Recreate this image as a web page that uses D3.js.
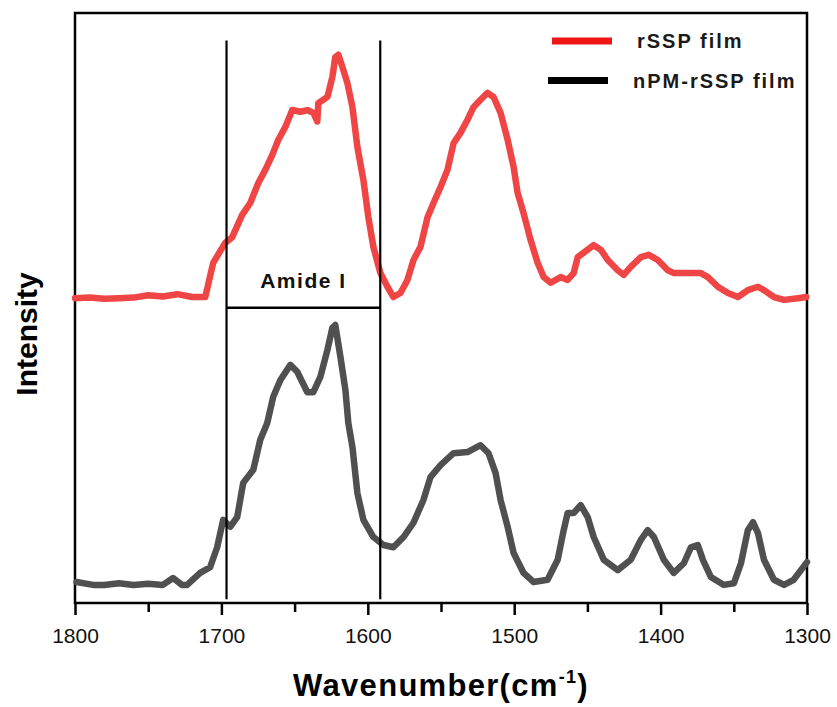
<!DOCTYPE html>
<html>
<head>
<meta charset="utf-8">
<script src="https://cdn.jsdelivr.net/npm/d3@7"></script>
<style>
  body { margin: 0; background: #fff; }
  svg { display: block; }
  text { font-family: "Liberation Sans", Arial, Helvetica, sans-serif; }
</style>
</head>
<body>
<svg id="chart" width="837" height="707"></svg>
<script>
// FTIR spectra, [wavenumber (cm-1), intensity (a.u., stacked)]
const rsspFilm = [
  [1800, 53.3], [1790, 53.4], [1780, 53.2], [1770, 53.3], [1760, 53.4], [1750, 53.8],
  [1740, 53.6], [1730, 54.0], [1720, 53.5], [1711, 53.5], [1705.6, 59.5], [1697.4, 63.0],
  [1692.6, 64.0], [1685.8, 67.9], [1680.3, 70.0], [1674.8, 73.5], [1670, 75.8], [1665.3, 78.4],
  [1661.1, 81.1], [1656.4, 83.3], [1651.6, 86.3], [1646.1, 86.0], [1641.3, 86.3], [1637.2, 85.8],
  [1634.5, 84.3], [1633.8, 87.5], [1627.6, 88.6], [1624.2, 92.1], [1622.2, 95.6], [1620.1, 96.0],
  [1617.4, 93.9], [1614, 91.1], [1610.5, 86.8], [1607.1, 79.8], [1603, 74.0], [1599.6, 67.5],
  [1596.2, 62.3], [1591.4, 57.7], [1586.6, 55.3], [1582.5, 53.5], [1577.7, 54.2], [1572.9, 56.5],
  [1568.8, 60.0], [1564, 62.3], [1559.2, 67.5], [1555.1, 70.0], [1550.3, 72.8], [1545.6, 75.8],
  [1541.4, 80.5], [1536.7, 82.3], [1531.9, 84.6], [1527.8, 86.8], [1523, 88.1], [1518.2, 89.3],
  [1514.1, 88.6], [1509.3, 85.8], [1504.5, 81.1], [1500.4, 76.3], [1497.7, 71.8], [1493.6, 68.2],
  [1488.8, 63.5], [1484, 59.5], [1479.9, 57.0], [1475.1, 56.0], [1468.3, 57.0], [1463.5, 56.5],
  [1459.4, 57.7], [1456.6, 60.5], [1449.8, 61.8], [1445.7, 62.6], [1440.9, 61.8], [1436.1, 60.0],
  [1429.3, 58.2], [1425.2, 57.4], [1420.4, 58.8], [1413.5, 60.5], [1408.1, 60.9], [1401.9, 60.0],
  [1395.1, 58.2], [1391, 57.7], [1372.5, 57.7], [1367.7, 57.0], [1360.9, 55.3], [1354, 54.2],
  [1347.2, 53.5], [1340.4, 54.7], [1333.5, 55.3], [1329.4, 54.7], [1322.6, 53.5], [1315.7, 53.0],
  [1306.1, 53.3], [1300.5, 53.5]
];

const npmRsspFilm = [
  [1799, 3.5], [1787.7, 3.0], [1780, 3.0], [1770, 3.3], [1760, 3.0], [1750, 3.2], [1740, 3.0],
  [1733, 4.2], [1727, 3.0], [1723.4, 3.0], [1714.5, 5.1], [1707.7, 6.1], [1702.9, 9.6],
  [1698.8, 14.4], [1694, 13.2], [1689.2, 14.9], [1685.1, 20.9], [1678.2, 23.2], [1673.5, 28.4],
  [1668.7, 31.4], [1664.6, 36.0], [1659.8, 38.9], [1652.9, 41.6], [1648.2, 40.4], [1641.3, 36.8],
  [1637.2, 36.8], [1632.4, 39.5], [1627.6, 44.2], [1624.2, 48.1], [1622.2, 48.6], [1618.7, 43.0],
  [1615.3, 37.2], [1613.3, 31.4], [1610.5, 27.2], [1607.1, 19.1], [1603, 14.4], [1596.2, 11.4],
  [1589.3, 10.0], [1582.5, 9.6], [1575.6, 11.4], [1568.8, 13.9], [1562, 17.9], [1557.2, 21.9],
  [1550.3, 24.0], [1541.4, 26.1], [1531.9, 26.3], [1523, 27.5], [1517.5, 26.1], [1512.7, 22.6],
  [1509.3, 17.9], [1504.5, 13.2], [1500.4, 8.6], [1493.6, 5.1], [1486.7, 3.5], [1477.2, 3.9],
  [1470.3, 7.4], [1466.2, 12.6], [1463.5, 15.6], [1459.4, 15.6], [1454.6, 17.0], [1449.8, 14.9],
  [1445.7, 11.4], [1438.8, 7.4], [1429.3, 5.6], [1420.4, 7.4], [1413.5, 10.9], [1408.8, 12.6],
  [1404.6, 11.4], [1397.8, 7.4], [1391, 5.1], [1384.1, 6.8], [1379.3, 9.6], [1374.6, 10.0],
  [1371.1, 7.4], [1365.7, 4.4], [1356.8, 3.0], [1349.9, 3.3], [1345.1, 6.8], [1340.4, 12.6],
  [1336.9, 14.0], [1333.5, 12.1], [1329.4, 7.4], [1322.6, 3.9], [1315.7, 3.0], [1309.1, 3.9],
  [1300, 7.0]
];

const majorTicks = [1800, 1700, 1600, 1500, 1400, 1300];
const minorTicks = [1750, 1650, 1550, 1450, 1350];

// Amide I band: bracket edges and level of the connecting bar
const amideEdges = [1696.5, 1591.5];
const amideLevel = 51.6;
const amideTop = 98.5;
const amideBottom = 0.5;

const legendLabels = ["rSSP film", "nPM-rSSP film"];
const legendColors = ["#f01515", "#000000"];
const curveColors = ["#f04545", "#505050"];

const svg = d3.select("#chart");
const frame = { left: 75, right: 807, top: 13, bottom: 603 };

const x = d3.scaleLinear().domain([1800, 1300]).range([frame.left, frame.right]);
const y = d3.scaleLinear().domain([0, 103.5]).range([602, 12]);

// frame
svg.append("rect")
  .attr("x", frame.left).attr("y", frame.top)
  .attr("width", frame.right - frame.left).attr("height", frame.bottom - frame.top)
  .attr("fill", "none").attr("stroke", "#000").attr("stroke-width", 2.5);

// spectra
const line = d3.line().x(d => x(d[0])).y(d => y(d[1]));
[[npmRsspFilm, curveColors[1]], [rsspFilm, curveColors[0]]].forEach(([series, color]) => {
  svg.append("path")
    .datum(series)
    .attr("d", line)
    .attr("fill", "none")
    .attr("stroke", color)
    .attr("stroke-width", 6.5)
    .attr("stroke-linejoin", "round")
    .attr("stroke-linecap", "round");
});

// Amide I bracket
amideEdges.forEach(w => {
  svg.append("line")
    .attr("x1", x(w)).attr("x2", x(w))
    .attr("y1", y(amideTop)).attr("y2", y(amideBottom))
    .attr("stroke", "#000").attr("stroke-width", 2.2);
});
svg.append("line")
  .attr("x1", x(amideEdges[0])).attr("x2", x(amideEdges[1]))
  .attr("y1", y(amideLevel)).attr("y2", y(amideLevel))
  .attr("stroke", "#000").attr("stroke-width", 2.5);
svg.append("text")
  .attr("x", (x(amideEdges[0]) + x(amideEdges[1])) / 2)
  .attr("y", y(amideLevel) - 20)
  .attr("text-anchor", "middle")
  .attr("font-size", 21).attr("font-weight", "bold")
  .attr("letter-spacing", 1.5)
  .attr("fill", "#111")
  .text("Amide I");

// x axis
const axisG = svg.append("g").attr("transform", `translate(0,${frame.bottom})`);
axisG.call(d3.axisBottom(x).tickValues(majorTicks).tickSize(12).tickPadding(13).tickFormat(d3.format("d")))
  .call(g => g.select(".domain").remove())
  .call(g => g.selectAll(".tick line").attr("stroke", "#000").attr("stroke-width", 2.5))
  .call(g => g.selectAll(".tick text").attr("font-size", 21).attr("fill", "#111")
    .style("font-family", '"Liberation Sans", Arial, sans-serif'));
const minorG = svg.append("g").attr("transform", `translate(0,${frame.bottom})`);
minorG.call(d3.axisBottom(x).tickValues(minorTicks).tickSize(9).tickFormat(""))
  .call(g => g.select(".domain").remove())
  .call(g => g.selectAll(".tick line").attr("stroke", "#000").attr("stroke-width", 2.5));

// axis titles
const xTitle = svg.append("text")
  .attr("x", 441).attr("y", 696)
  .attr("text-anchor", "middle")
  .attr("font-size", 31).attr("font-weight", "bold")
  .attr("letter-spacing", 1.3)
  .attr("fill", "#000");
xTitle.append("tspan").text("Wavenumber(cm");
xTitle.append("tspan").attr("dy", -13).attr("font-size", 18).text("-1");
xTitle.append("tspan").attr("dy", 13).text(")");

svg.append("text")
  .attr("transform", "translate(37,334) rotate(-90)")
  .attr("text-anchor", "middle")
  .attr("font-size", 30).attr("font-weight", "bold")
  .attr("fill", "#000")
  .text("Intensity");

// legend
const legend = svg.append("g");
legendLabels.forEach((label, i) => {
  const ly = 41 + i * 39.5;
  const lx = 552 - i * 4;
  legend.append("line")
    .attr("x1", lx).attr("x2", lx + 60)
    .attr("y1", ly).attr("y2", ly)
    .attr("stroke", legendColors[i]).attr("stroke-width", 7);
  legend.append("text")
    .attr("x", lx + 85).attr("y", ly + 7)
    .attr("font-size", 20).attr("font-weight", "bold")
    .attr("letter-spacing", 2)
    .attr("fill", "#1a1a1a")
    .text(label);
});
</script>
</body>
</html>
